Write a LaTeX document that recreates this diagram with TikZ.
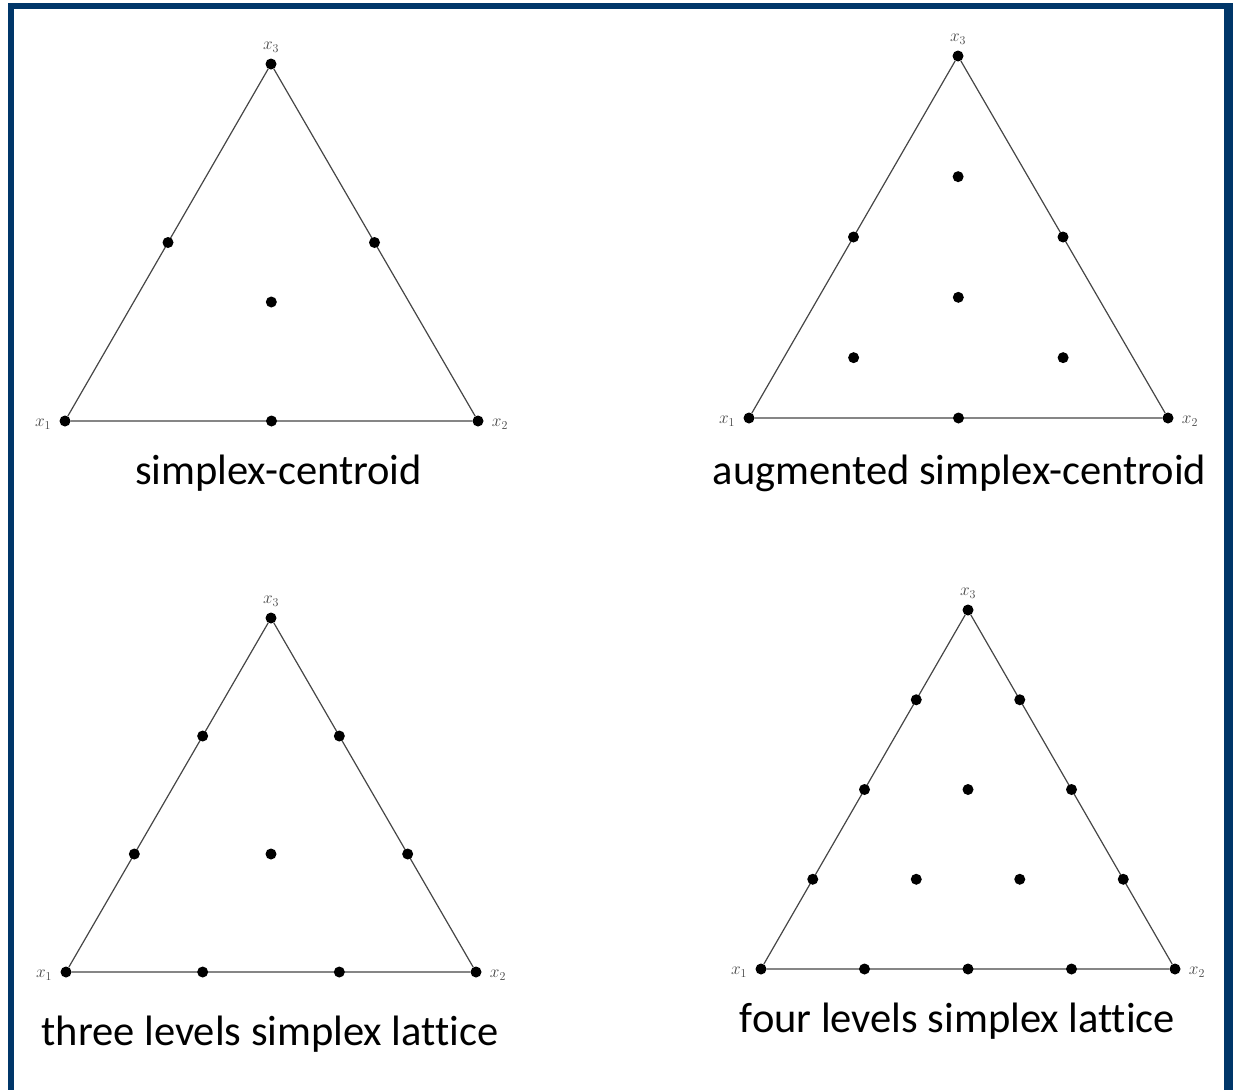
\documentclass[tikz,border=0pt]{standalone}
\usepackage{fontspec}
\usepackage{amsmath}
\usepackage{xcolor}
\usepackage{tikz}
\usetikzlibrary{positioning,calc}
\newfontfamily\capfont[Ligatures=NoCommon]{Carlito}
\definecolor{frameBlue}{RGB}{0,54,105}
\definecolor{edgeGray}{RGB}{70,70,70}
\definecolor{labelGray}{RGB}{70,70,70}

\begin{document}
\begin{tikzpicture}[
  x=1pt, y=-1pt,
  dot/.style={circle, fill=black, minimum size=11pt, inner sep=0pt},
  edge/.style={draw=edgeGray, line width=1.2pt},
  lbl/.style={font=\fontsize{18}{20}\selectfont, text=labelGray, inner sep=1pt},
  caption/.style={font=\capfont\fontsize{42.5}{50}\selectfont, anchor=base, inner sep=0pt}
]
  % Frame
  \useasboundingbox (0,0) rectangle (1233,1090);
  \fill[white] (0,0) rectangle (1233,1090);
  \fill[frameBlue] (8,3) rectangle (1233,9);
  \fill[frameBlue] (8,3) rectangle (14,1090);
  \fill[frameBlue] (1224,3) rectangle (1233,1090);

  % Simplex-centroid
  \node[dot, label={[lbl, label distance=7pt, yshift=-3pt]left:$x_1$}] (a1) at (65,421) {};
  \node[dot, label={[lbl, label distance=7pt, yshift=-3pt]right:$x_2$}] (b1) at (478,421) {};
  \node[dot, label={[lbl, label distance=5pt]above:$x_3$}] (c1) at (271,64) {};
  \draw[edge] (a1) -- (b1) -- (c1) -- (a1);
  \node[dot] (ab1) at ($(a1)!0.5!(b1)$) {};
  \node[dot] (ac1) at ($(a1)!0.5!(c1)$) {};
  \node[dot] (bc1) at ($(b1)!0.5!(c1)$) {};
  \node[dot] (m1) at (barycentric cs:a1=1,b1=1,c1=1) {};
  \node[caption] (t1) at (278.5,484) {simplex-centroid};

  % Augmented simplex-centroid
  \node[dot, label={[lbl, label distance=7pt, yshift=-3pt]left:$x_1$}] (a2) at (749,418) {};
  \node[dot, label={[lbl, label distance=7pt, yshift=-3pt]right:$x_2$}] (b2) at (1168,418) {};
  \node[dot, label={[lbl, label distance=5pt]above:$x_3$}] (c2) at (958,56) {};
  \draw[edge] (a2) -- (b2) -- (c2) -- (a2);
  \node[dot] (ab2) at ($(a2)!0.5!(b2)$) {};
  \node[dot] (ac2) at ($(a2)!0.5!(c2)$) {};
  \node[dot] (bc2) at ($(b2)!0.5!(c2)$) {};
  \node[dot] (m2) at (barycentric cs:a2=1,b2=1,c2=1) {};
  \node[dot] (pa2) at (barycentric cs:a2=4,b2=1,c2=1) {};
  \node[dot] (pb2) at (barycentric cs:a2=1,b2=4,c2=1) {};
  \node[dot] (pc2) at (barycentric cs:a2=1,b2=1,c2=4) {};
  \node[caption] (t2) at (959.5,484) {augmented simplex-centroid};

  % Three levels simplex lattice
  \node[dot, label={[lbl, label distance=7pt, yshift=-3pt]left:$x_1$}] (a3) at (66,972) {};
  \node[dot, label={[lbl, label distance=7pt, yshift=-3pt]right:$x_2$}] (b3) at (476,972) {};
  \node[dot, label={[lbl, label distance=5pt]above:$x_3$}] (c3) at (271,618) {};
  \draw[edge] (a3) -- (b3) -- (c3) -- (a3);
  \node[dot] (ab3a) at ($(a3)!1/3!(b3)$) {};
  \node[dot] (ab3b) at ($(a3)!2/3!(b3)$) {};
  \node[dot] (ac3a) at ($(a3)!1/3!(c3)$) {};
  \node[dot] (ac3b) at ($(a3)!2/3!(c3)$) {};
  \node[dot] (bc3a) at ($(b3)!1/3!(c3)$) {};
  \node[dot] (bc3b) at ($(b3)!2/3!(c3)$) {};
  \node[dot] (m3) at (barycentric cs:a3=1,b3=1,c3=1) {};
  \node[caption] (t3) at (270,1045) {three levels simplex lattice};

  % Four levels simplex lattice
  \node[dot, label={[lbl, label distance=7pt, yshift=-3pt]left:$x_1$}] (a4) at (761,969) {};
  \node[dot, label={[lbl, label distance=7pt, yshift=-3pt]right:$x_2$}] (b4) at (1175,969) {};
  \node[dot, label={[lbl, label distance=5pt]above:$x_3$}] (c4) at (968,610) {};
  \draw[edge] (a4) -- (b4) -- (c4) -- (a4);
  \foreach \f/\n in {0.25/a, 0.5/b, 0.75/c} {
    \node[dot] (ab4\n) at ($(a4)!\f!(b4)$) {};
    \node[dot] (ac4\n) at ($(a4)!\f!(c4)$) {};
    \node[dot] (bc4\n) at ($(b4)!\f!(c4)$) {};
  }
  \node[dot] (pa4) at (barycentric cs:a4=2,b4=1,c4=1) {};
  \node[dot] (pb4) at (barycentric cs:a4=1,b4=2,c4=1) {};
  \node[dot] (pc4) at (barycentric cs:a4=1,b4=1,c4=2) {};
  \node[caption] (t4) at (957.5,1032) {four levels simplex lattice};
\end{tikzpicture}
\end{document}
